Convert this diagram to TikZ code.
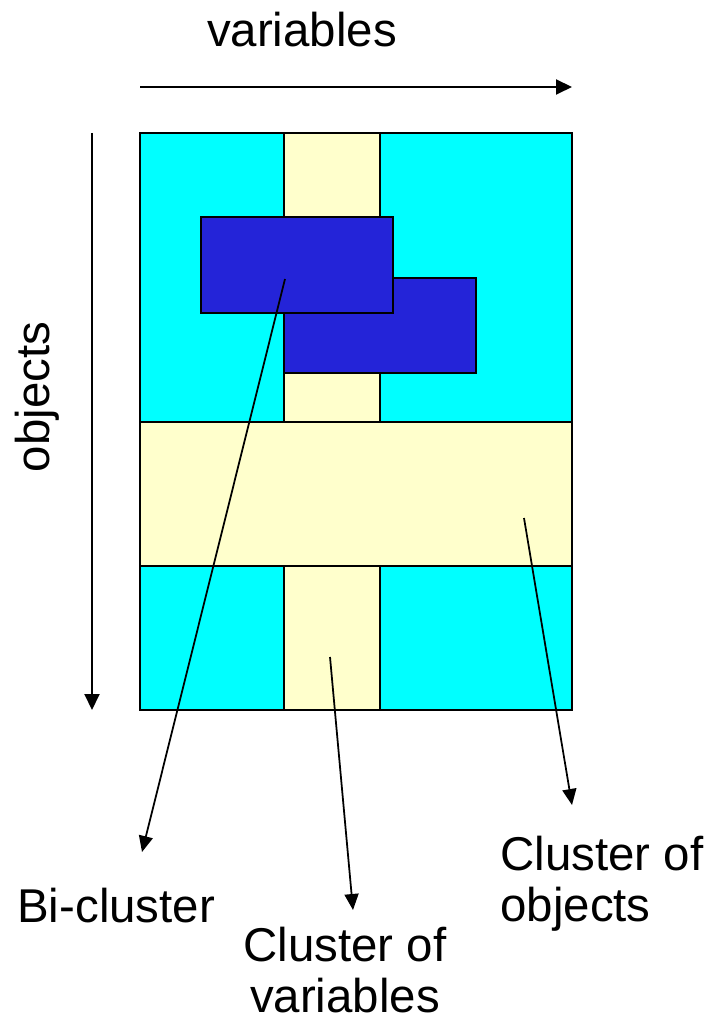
\documentclass[tikz,border=0pt]{standalone}
\usepackage{fontspec}
\setmainfont{Liberation Sans}
\usetikzlibrary{arrows.meta}
\definecolor{cellcyan}{RGB}{0,255,255}
\definecolor{bandyellow}{RGB}{255,255,204}
\definecolor{biblue}{RGB}{36,36,216}
\begin{document}
\begin{tikzpicture}[x=0.02cm,y=-0.02cm,
  cell/.style={draw=black,line width=1.1pt},
  axis/.style={line width=1.1pt,-{Triangle[length=0.32cm,width=0.3cm]}},
  leader/.style={line width=1pt,-{Triangle[length=0.32cm,width=0.28cm]}},
  lbl/.style={inner sep=0pt,font=\fontsize{27}{29}\selectfont}]
\useasboundingbox (0,0) rectangle (711,1023);
% data matrix
\fill[cellcyan] (140,133) rectangle (572,710);
\draw[cell,fill=bandyellow] (284,133) rectangle (380,422);
\draw[cell,fill=bandyellow] (284,566) rectangle (380,710);
\draw[cell,fill=bandyellow] (140,422) rectangle (572,566);
\draw[cell] (140,133) rectangle (572,710);
% overlapping bi-clusters
\draw[cell,fill=biblue] (284,278) rectangle (476,373);
\draw[cell,fill=biblue] (201,217) rectangle (393,313);
% axes
\coordinate (vs) at (140,87);
\coordinate (ve) at (572,87);
\coordinate (os) at (92,133);
\coordinate (oe) at (92,710);
\draw[axis] (vs) -- (ve);
\draw[axis] (os) -- (oe);
\node[lbl] (vars) at (302,30) {variables};
\node[lbl,rotate=90] (objs) at (37,397) {objects};
% labels
\node[lbl,anchor=west] (bic) at (17,906) {Bi-cluster};
\node[lbl,align=center] (cov) at (345,970) {Cluster of\\variables};
\node[lbl,align=left,anchor=west] (coo) at (500,884) {Cluster of\\objects};
% leaders
\coordinate (b1) at (285,279);
\coordinate (b2) at (142,852);
\coordinate (v1) at (330,657);
\coordinate (v2) at (353,910);
\coordinate (o1) at (524,518);
\coordinate (o2) at (572,805);
\draw[leader] (b1) -- (b2);
\draw[leader] (v1) -- (v2);
\draw[leader] (o1) -- (o2);
\end{tikzpicture}
\end{document}
